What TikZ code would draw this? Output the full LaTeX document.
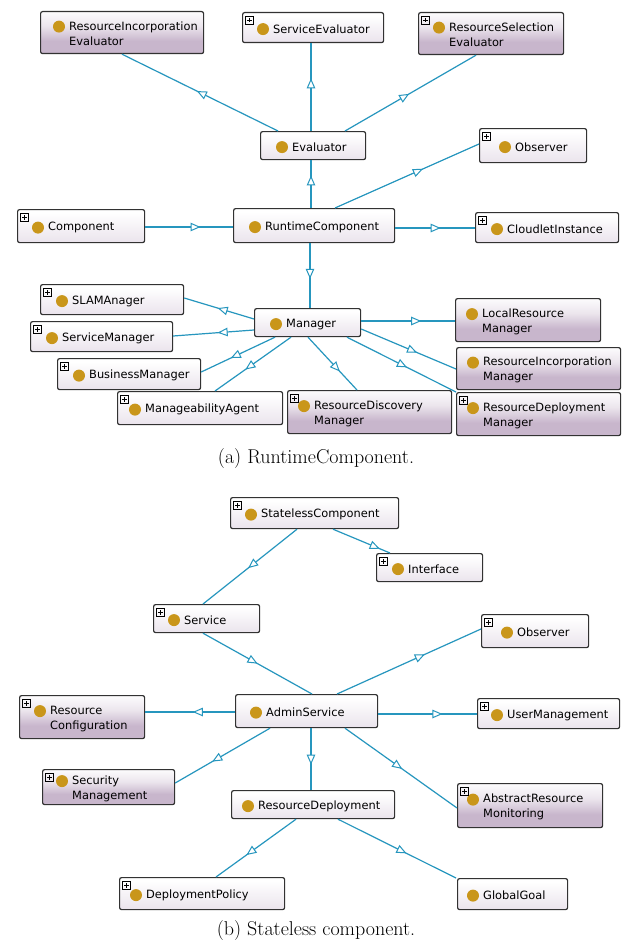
\documentclass[tikz,border=0pt]{standalone}
\usepackage{fontspec}
\newfontfamily\clsfont{DejaVu Sans}
\usetikzlibrary{arrows.meta,decorations.markings,calc}

\definecolor{edgec}{RGB}{38,150,190}
\definecolor{dotc}{RGB}{201,150,26}
\definecolor{framec}{RGB}{50,50,50}
\definecolor{lavlo}{RGB}{214,201,218}
\definecolor{purp}{RGB}{200,182,204}

% shadings for one-line and two-line class boxes (bottom to top)
\pgfdeclareverticalshading{oneln}{100bp}{color(0bp)=(lavlo); color(30bp)=(lavlo!45!white); color(70bp)=(white); color(100bp)=(white)}
\pgfdeclareverticalshading{twoln}{100bp}{color(0bp)=(purp); color(40bp)=(purp); color(58bp)=(purp!35!white); color(78bp)=(white); color(100bp)=(white)}

\tikzset{
  clsnode/.style={draw=framec, line width=1.2pt, rounded corners=2pt, inner sep=0pt, shade},
  kind1/.style={shading=oneln},
  kind2/.style={shading=twoln},
  clstext/.style={inner sep=0pt, align=left, font=\clsfont\fontsize{11.4}{15}\selectfont, text=black},
  plusbox/.style={draw=black, line width=0.7pt},
  tri/.tip={Triangle[length=10pt, width=8.5pt, fill=white, line width=1pt]},
  isa/.style={draw=edgec, line width=1.2pt,
    postaction={decorate, decoration={markings,
      mark=at position #1 with {\arrow[edgec]{tri}}}}},
  caption/.style={inner sep=0pt, font=\fontsize{20}{22}\selectfont}
}

% #1 name, #2 left, #3 top, #4 width, #5 height, #6 lines (1/2), #7 plus icon (0/1), #8 text indent, #9 label
\newcommand\clsbox[9]{%
  \node[clsnode, kind#6, minimum width=#4pt, minimum height=#5pt, anchor=north west] (#1) at (#2,#3) {};
  \node[clstext, anchor=west] (#1-t) at ($(#1.west)+(#8,1.5)$) {#9};
  \ifnum#6=2 \def\dotdy{-6}\else\def\dotdy{1.5}\fi
  \fill[dotc] ($(#1.west)+(#8-10,\dotdy)$) circle (6pt);
  \ifnum#7=1
    \draw[plusbox] ($(#1.north west)+(3,4)$) rectangle ++(8.5,8.5);
    \draw[plusbox] ($(#1.north west)+(5,8.25)$) -- ++(4.5,0)
                   ($(#1.north west)+(7.25,6)$) -- ++(0,4.5);
  \fi
}

\begin{document}
\begin{tikzpicture}[x=1pt,y=-1pt]
\useasboundingbox[fill=white] (0,0) rectangle (628,942);

% ---------------- (a) RuntimeComponent ----------------
\clsbox{rie}{40}{11}{163}{42}{2}{0}{29}{ResourceIncorporation\\Evaluator}
\clsbox{sev}{242}{12}{141}{30}{1}{1}{31}{ServiceEvaluator}
\clsbox{rse}{418}{12}{145}{42}{2}{1}{31}{ResourceSelection\\Evaluator}
\clsbox{ev}{260}{131}{105}{28}{1}{0}{32}{Evaluator}
\clsbox{obsa}{479}{128}{107}{34}{1}{1}{36}{Observer}
\clsbox{comp}{17}{209}{127}{33}{1}{1}{31}{Component}
\clsbox{rc}{233}{208}{161}{34}{1}{0}{32}{RuntimeComponent}
\clsbox{cli}{475}{212}{143}{30}{1}{1}{32}{CloudletInstance}
\clsbox{sla}{40}{284}{143}{30}{1}{1}{32}{SLAMAnager}
\clsbox{svm}{30}{321}{142}{30}{1}{1}{32}{ServiceManager}
\clsbox{bm}{57}{358}{143}{31}{1}{1}{32}{BusinessManager}
\clsbox{ma}{117}{391}{165}{33}{1}{1}{28}{ManageabilityAgent}
\clsbox{mgr}{254}{308}{106}{28}{1}{0}{32}{Manager}
\clsbox{rdm}{287}{390}{164}{43}{2}{1}{27}{ResourceDiscovery\\Manager}
\clsbox{lrm}{455}{298}{145}{43}{2}{0}{27}{LocalResource\\Manager}
\clsbox{rim}{456}{347}{164}{42}{2}{0}{27}{ResourceIncorporation\\Manager}
\clsbox{rdp}{456}{392}{164}{43}{2}{1}{27}{ResourceDeployment\\Manager}

\draw[isa=0.52] (278,0 |- ev.north) -- (122,0 |- rie.south);
\draw[isa=0.6]  (311,0 |- ev.north) -- (311,0 |- sev.south);
\draw[isa=0.49] (345,0 |- ev.north) -- (476,0 |- rse.south);
\draw[isa=0.68] (311,0 |- rc.north) -- (311,0 |- ev.south);
\draw[isa=0.61] (335,0 |- rc.north) -- (obsa.west |- 0,144);
\draw[isa=0.63] (comp.east |- 0,227) -- (rc.west |- 0,227);
\draw[isa=0.57] (rc.east |- 0,228) -- (cli.west |- 0,228);
\draw[isa=0.55] (310,0 |- rc.south) -- (310,0 |- mgr.north);
\draw[isa=0.52] (mgr.west |- 0,319) -- (sla.east |- 0,298);
\draw[isa=0.45] (mgr.west |- 0,330) -- (svm.east |- 0,336);
\draw[isa=0.6]  (275,0 |- mgr.south) -- (bm.east |- 0,372);
\draw[isa=0.6]  (291,0 |- mgr.south) -- (215,0 |- ma.north);
\draw[isa=0.65] (308,0 |- mgr.south) -- (357,0 |- rdm.north);
\draw[isa=0.64] (mgr.east |- 0,321) -- (lrm.west |- 0,321);
\draw[isa=0.59] (mgr.east |- 0,329) -- (rim.west |- 0,369);
\draw[isa=0.55] (347,0 |- mgr.south) -- (rdp.north west);

\node[caption] (capa) at (316,459) {(a) RuntimeComponent.};

% ---------------- (b) Stateless component ----------------
\clsbox{sc}{230}{497}{168}{31}{1}{1}{31}{StatelessComponent}
\clsbox{itf}{376}{553}{106}{28}{1}{1}{32}{Interface}
\clsbox{svc}{153}{604}{106}{28}{1}{1}{31}{Service}
\clsbox{obsb}{481}{614}{107}{33}{1}{1}{36}{Observer}
\clsbox{rcf}{19}{695}{125}{43}{2}{1}{31}{Resource\\Configuration}
\clsbox{adm}{235}{694}{142}{33}{1}{0}{31}{AdminService}
\clsbox{um}{477}{698}{142}{30}{1}{1}{30}{UserManagement}
\clsbox{sec}{42}{769}{132}{35}{2}{1}{30}{Security\\Management}
\clsbox{rdep}{231}{790}{163}{28}{1}{0}{27}{ResourceDeployment}
\clsbox{arm}{457}{783}{145}{44}{2}{1}{26}{AbstractResource\\Monitoring}
\clsbox{dp}{119}{877}{165}{32}{1}{1}{27}{DeploymentPolicy}
\clsbox{gg}{457}{878}{110}{31}{1}{0}{26}{GlobalGoal}

\draw[isa=0.52] (297,0 |- sc.south) -- (203,0 |- svc.north);
\draw[isa=0.82] (333,0 |- sc.south) -- (390,0 |- itf.north);
\draw[isa=0.5]  (203,0 |- svc.south) -- (312,0 |- adm.north);
\draw[isa=0.61] (337,0 |- adm.north) -- (obsb.west |- 0,629);
\draw[isa=0.47] (adm.west |- 0,712) -- (rcf.east |- 0,712);
\draw[isa=0.65] (adm.east |- 0,714) -- (um.west |- 0,714);
\draw[isa=0.61] (270,0 |- adm.south) -- (sec.east |- 0,783);
\draw[isa=0.59] (311,0 |- adm.south) -- (311,0 |- rdep.north);
\draw[isa=0.51] (345,0 |- adm.south) -- (arm.west |- 0,808);
\draw[isa=0.62] (296,0 |- rdep.south) -- (216,0 |- dp.north);
\draw[isa=0.58] (338,0 |- rdep.south) -- (456,0 |- gg.north);

\node[caption] (capb) at (316,930) {(b) Stateless component.};
\end{tikzpicture}
\end{document}
